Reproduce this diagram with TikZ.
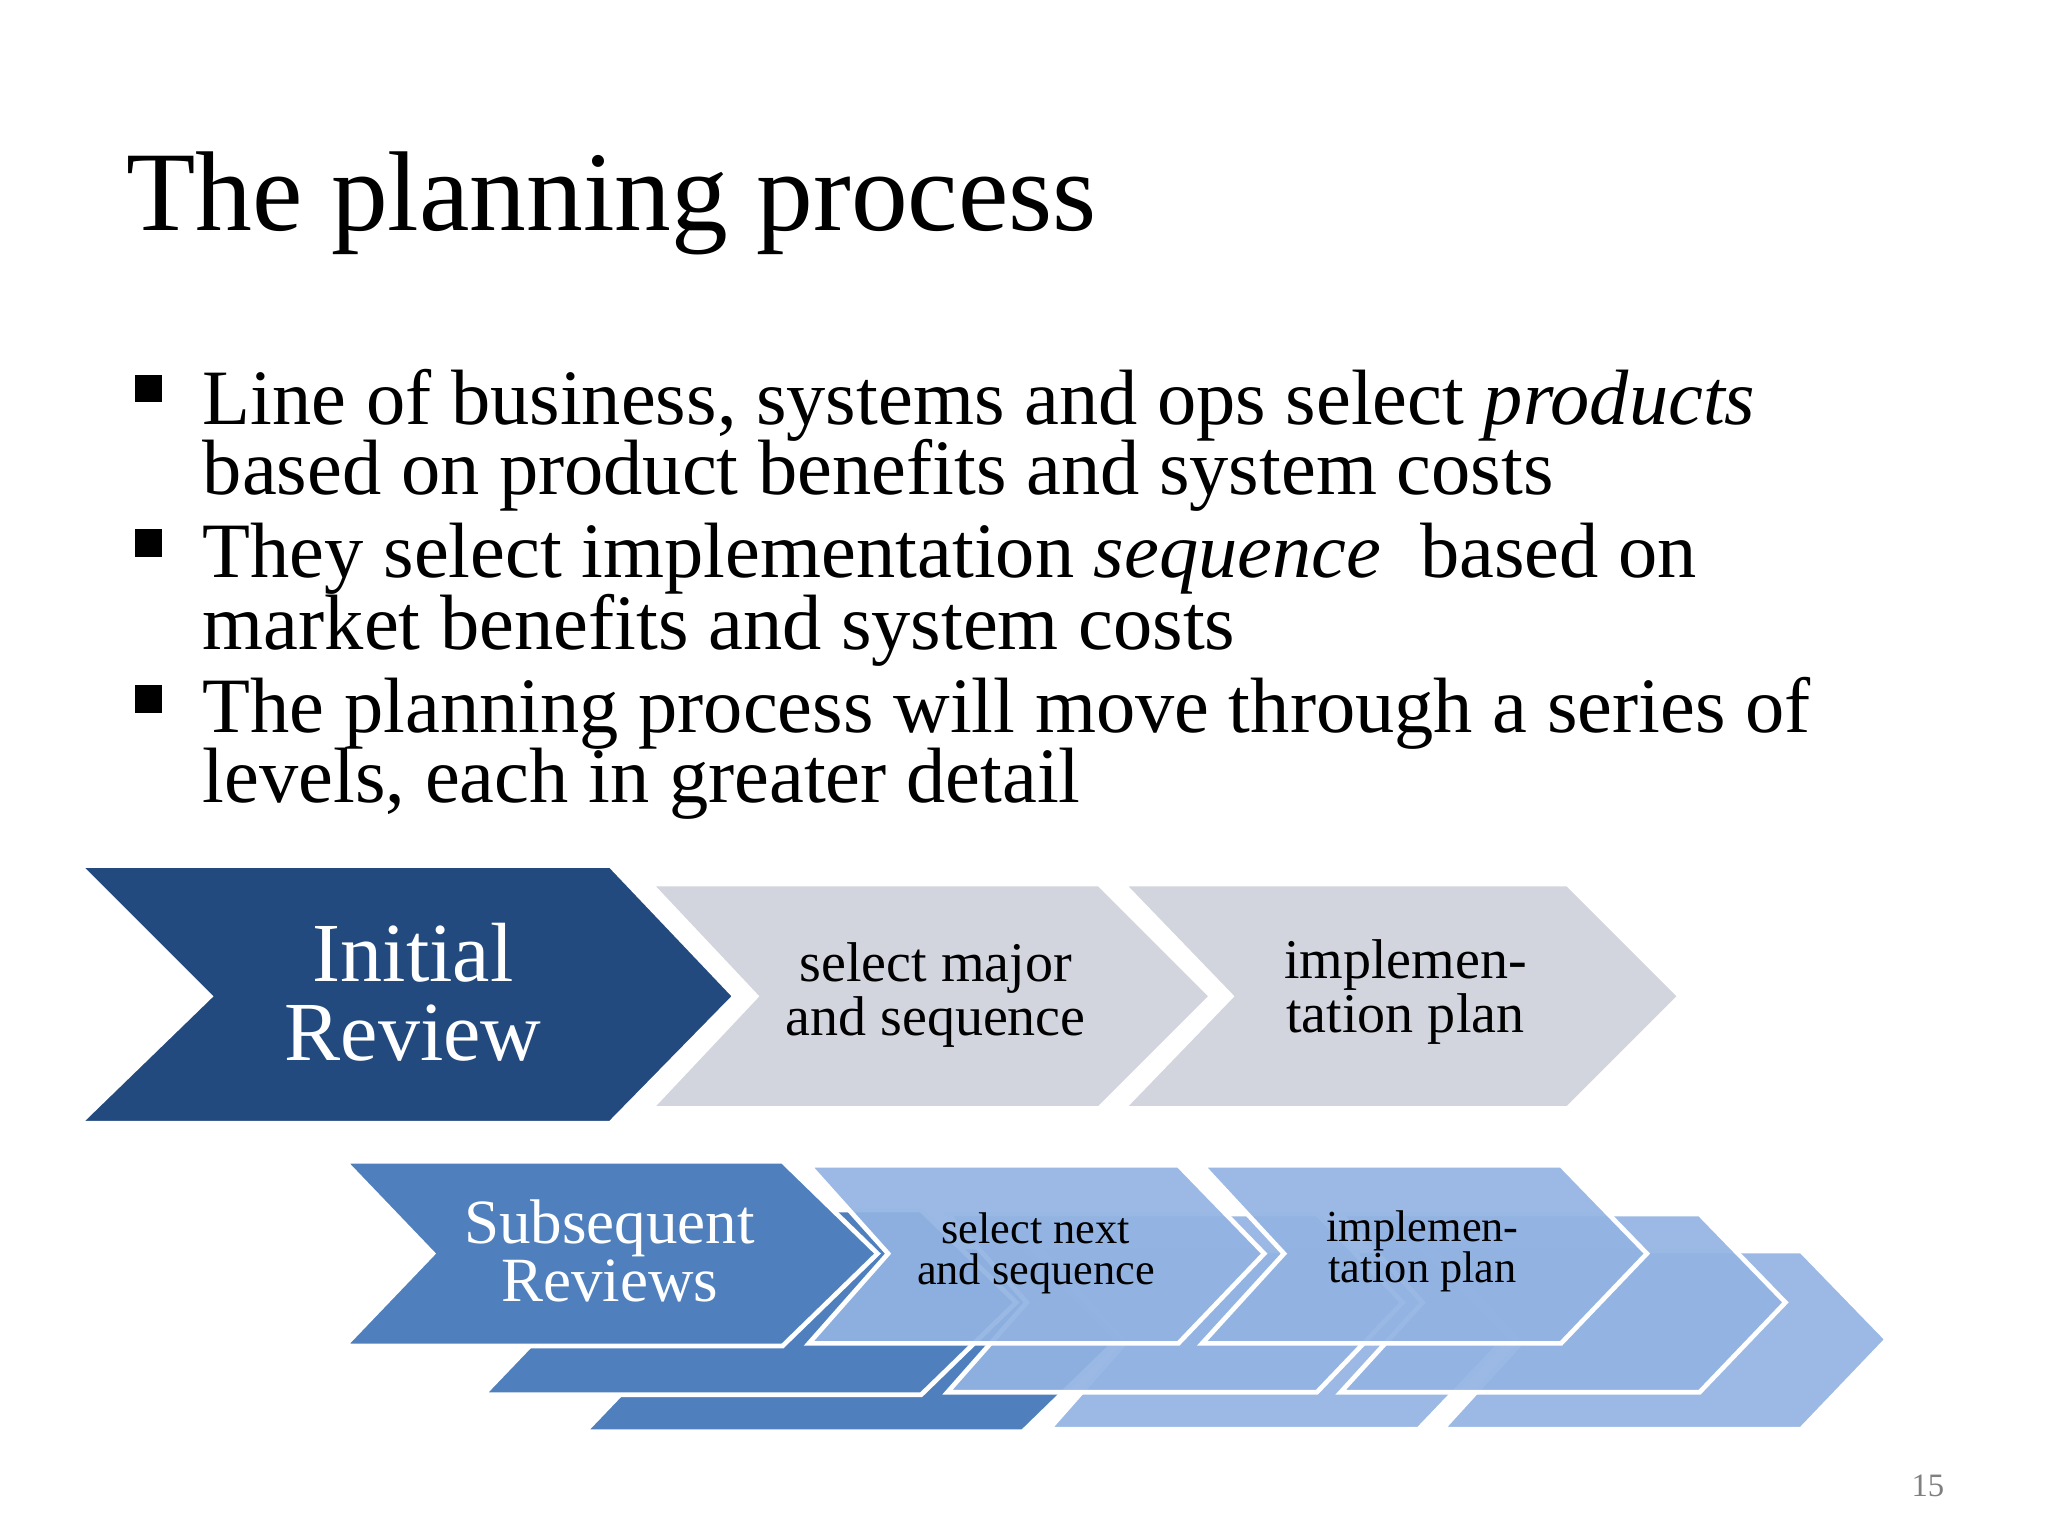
\documentclass[tikz,border=0pt]{standalone}
\usepackage{fontspec}
\setmainfont{Liberation Serif}
\begin{document}
\begin{tikzpicture}[x=0.00993cm,y=-0.00993cm,
  dk/.style={fill=dkblue,draw=white,line width=1pt},
  gr/.style={fill=lgrey,draw=white,line width=1pt},
  mb/.style={fill=midblue,draw=white,line width=1pt},
  lb/.style={fill=ltblue,draw=white,line width=1pt,fill opacity=0.92},
  bul/.style={anchor=base west,font=\fontsize{16.8}{15}\selectfont,inner sep=0pt}]
\definecolor{dkblue}{HTML}{224A7E}
\definecolor{lgrey}{HTML}{D3D5DE}
\definecolor{midblue}{HTML}{4F80BD}
\definecolor{ltblue}{HTML}{92B3E2}
\useasboundingbox (0,0) rectangle (1552,1164);
\node[anchor=base west,inner sep=0pt,font=\fontsize{24.3}{28}\selectfont] (title) at (95,175) {The planning process};
\foreach \y in {295,412,530} \fill (102,\y-11) rectangle +(21,21);
\node[bul] (b1) at (153,322) {Line of business, systems and ops select \textit{products}};
\node[bul] (b1b) at (153,375) {based on product benefits and system costs};
\node[bul] (b2) at (153,438) {They select implementation \textit{sequence}\ \ based on};
\node[bul] (b2b) at (153,492) {market benefits and system costs};
\node[bul] (b3) at (153,555) {The planning process will move through a series of};
\node[bul] (b3b) at (153,608) {levels, each in greater detail};
\begin{scope}[shift={(-7,-10)}]
% top row
\draw[gr] (858,680) -- (1195,680) -- (1280,765) -- (1195,850) -- (858,850) -- (940,765) -- cycle;
\draw[gr] (500,680) -- (840,680) -- (925,765) -- (840,850) -- (500,850) -- (580,765) -- cycle;
\draw[dk,line width=1.5pt] (65,665) -- (470,665) -- (565,765) -- (470,862) -- (65,862) -- (165,765) -- cycle;
\node[text=white,font=\fontsize{18}{17}\selectfont,align=center] (ir) at (320,762) {Initial\\Review};
\node[font=\fontsize{12}{11.5}\selectfont,align=center] (sm) at (716,764) {select major\\and sequence};
\node[font=\fontsize{12}{11.5}\selectfont,align=center] (ip) at (1072,762) {implemen-\\tation plan};
% bottom row copies
\foreach \dx/\dy in {182/65,105/37}{
  \draw[mb] (268+\dx,890+\dy) -- (600+\dx,890+\dy) -- (672+\dx,960+\dy) -- (600+\dx,1030+\dy) -- (268+\dx,1030+\dy) -- (335+\dx,960+\dy) -- cycle;
  \draw[lb] (620+\dx,893+\dy) -- (900+\dx,893+\dy) -- (965+\dx,960+\dy) -- (900+\dx,1028+\dy) -- (620+\dx,1028+\dy) -- (680+\dx,960+\dy) -- cycle;
  \draw[lb] (918+\dx,893+\dy) -- (1190+\dx,893+\dy) -- (1255+\dx,960+\dy) -- (1190+\dx,1028+\dy) -- (918+\dx,1028+\dy) -- (980+\dx,960+\dy) -- cycle;
}
\draw[mb] (268,890) -- (600,890) -- (672,960) -- (600,1030) -- (268,1030) -- (335,960) -- cycle;
\draw[lb] (620,893) -- (900,893) -- (965,960) -- (900,1028) -- (620,1028) -- (680,960) -- cycle;
\draw[lb] (918,893) -- (1190,893) -- (1255,960) -- (1190,1028) -- (918,1028) -- (980,960) -- cycle;
\node[text=white,font=\fontsize{13.5}{12.5}\selectfont,align=center] (sr) at (469,958) {Subsequent\\Reviews};
\node[font=\fontsize{9.5}{8.8}\selectfont,align=center] (sn) at (792,960) {select next\\and sequence};
\node[font=\fontsize{9.5}{8.8}\selectfont,align=center] (ip2) at (1085,958) {implemen-\\tation plan};
\end{scope}
\node[text=gray,font=\fontsize{7}{8}\selectfont] (pg) at (1461,1126) {15};
\end{tikzpicture}
\end{document}
